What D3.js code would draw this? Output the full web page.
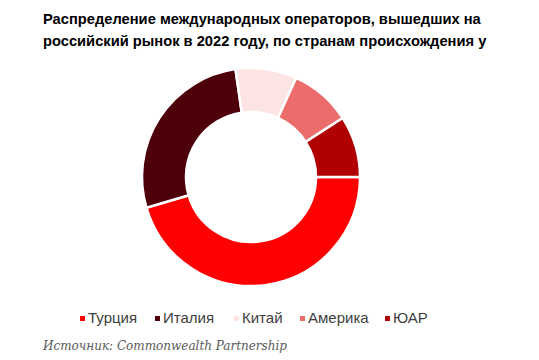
<!DOCTYPE html>
<html>
<head>
<meta charset="utf-8">
<script src="https://cdn.jsdelivr.net/npm/d3@7"></script>
<style>
  body { margin: 0; background: #fff; }
  svg { display: block; }
</style>
</head>
<body>
<script>
// data
var countries = ['Турция', 'Италия', 'Китай', 'Америка', 'ЮАР'];
var counts = [5, 3, 1, 1, 1];
var sliceColors = ['#ff0000', '#4d000a', '#fce4e4', '#ec6b6b', '#b00000'];
var titleLines = [
	'Распределение международных операторов, вышедших на',
	'российский рынок в 2022 году, по странам происхождения у'
];
var sourceText = 'Источник: Commonwealth Partnership';

var width = 539, height = 360;
var center = { x: 251, y: 177 },
	outer = 109,
	inner = 65;

var svg = d3.select('body').append('svg')
	.attr('width', width)
	.attr('height', height);

// Title
svg.append('g')
	.selectAll('text')
	.data(titleLines)
	.enter().append('text')
	.attr('x', 43)
	.attr('y', (d, i) => 24 + i * 22)
	.style('font-family', '"Liberation Sans", Arial, sans-serif')
	.style('font-weight', 'bold')
	.style('font-size', '14.7px')
	.attr('fill', '#000')
	.text(d => d);

// Donut
var data = countries.map((c, i) => ({ name: c, value: counts[i], color: sliceColors[i] }));

var pie = d3.pie()
	.value(d => d.value)
	.sort(null)
	.startAngle(Math.PI / 2)
	.endAngle(Math.PI / 2 + 2 * Math.PI);

var arc = d3.arc()
	.innerRadius(inner)
	.outerRadius(outer);

svg.append('g')
	.attr('transform', 'translate(' + center.x + ',' + center.y + ')')
	.selectAll('path')
	.data(pie(data))
	.enter().append('path')
	.attr('d', arc)
	.attr('fill', d => d.data.color)
	.attr('stroke', '#fff')
	.attr('stroke-width', 2.5);

// Legend
var legendX = d3.scaleOrdinal()
	.domain(countries)
	.range([80, 155, 234, 300, 385]);

var legend = svg.append('g')
	.selectAll('g')
	.data(data)
	.enter().append('g')
	.attr('transform', d => 'translate(' + legendX(d.name) + ',323)');

legend.append('rect')
	.attr('x', 0)
	.attr('y', -7)
	.attr('width', 5)
	.attr('height', 5)
	.attr('fill', d => d.color);

legend.append('text')
	.attr('x', 8)
	.attr('y', 0)
	.style('font-family', '"Liberation Sans", Arial, sans-serif')
	.style('font-size', '15px')
	.attr('fill', '#404040')
	.text(d => d.name);

// Source
svg.append('text')
	.attr('x', 43)
	.attr('y', 350)
	.style('font-family', '"DejaVu Serif", Georgia, serif')
	.style('font-style', 'italic')
	.style('font-size', '12px')
	.attr('fill', '#595959')
	.text(sourceText);
</script>
</body>
</html>
